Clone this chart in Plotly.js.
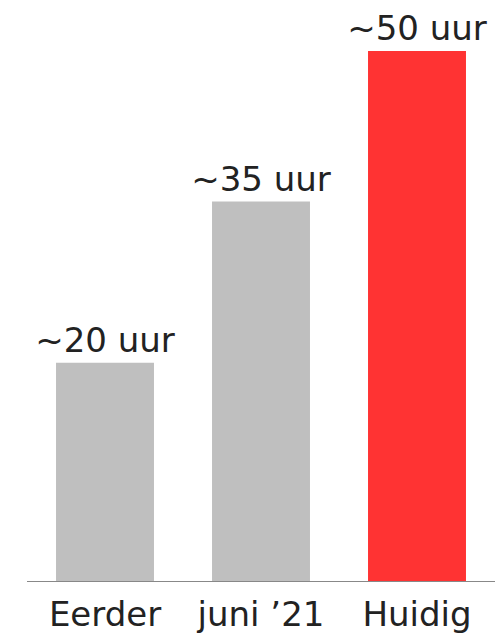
<!DOCTYPE html>
<html>
<head>
<meta charset="utf-8">
<script src="https://cdn.plot.ly/plotly-3.0.1.min.js"></script>
<style>html,body{margin:0;padding:0;background:#fff;}#chart{width:500px;height:635px;}</style>
</head>
<body>
<div id="chart"></div>
<script>
const categories = ["Eerder", "juni \u201921", "Huidig"];
const values = [20.6, 35.8, 50];
const valueLabels = ["~20 uur", "~35 uur", "~50 uur"];
const barColors = ["#bfbfbf", "#bfbfbf", "#ff3333"];

const trace = {
  type: "bar",
  x: categories,
  y: values,
  text: valueLabels,
  textposition: "outside",
  constraintext: "none",
  cliponaxis: false,
  textfont: {family: "DejaVu Sans", size: 34, color: "#222"},
  marker: {color: barColors, line: {width: 0}},
  hoverinfo: "none"
};

const layout = {
  width: 500, height: 635,
  margin: {l: 27, r: 5, t: 51, b: 54},
  paper_bgcolor: "#fff", plot_bgcolor: "#fff",
  showlegend: false,
  bargap: 0.372,
  font: {family: "DejaVu Sans", color: "#222"},
  xaxis: {
    type: "category",
    showline: true, linecolor: "#888", linewidth: 1,
    ticks: "", showgrid: false, zeroline: false,
    ticklabelstandoff: 3,
    tickfont: {family: "DejaVu Sans", size: 34, color: "#222"}
  },
  yaxis: {
    range: [0, 50], visible: false, showgrid: false, zeroline: false
  }
};

Plotly.newPlot("chart", [trace], layout, {staticPlot: true, displayModeBar: false});
</script>
</body>
</html>
